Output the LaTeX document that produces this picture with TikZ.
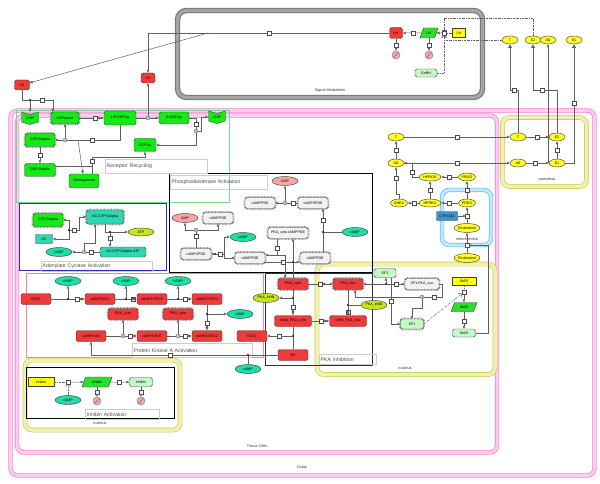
\documentclass[tikz,border=0pt]{standalone}
\usepackage{fontspec}
\setmainfont{Liberation Sans}
\usetikzlibrary{arrows.meta,shapes.geometric}

\definecolor{protGreen}{RGB}{20,235,20}
\definecolor{protRed}{RGB}{238,58,58}
\definecolor{protTeal}{RGB}{45,215,175}
\definecolor{protLight}{RGB}{195,250,195}
\definecolor{protGray}{RGB}{242,242,242}
\definecolor{cypBlue}{RGB}{60,150,205}
\definecolor{smTeal}{RGB}{30,222,165}
\definecolor{smPink}{RGB}{245,165,165}
\definecolor{smYellow}{RGB}{255,255,40}
\definecolor{smLime}{RGB}{195,232,25}
\definecolor{geneYellow}{RGB}{255,255,0}
\definecolor{rnaGreen}{RGB}{40,225,40}
\definecolor{degPink}{RGB}{245,170,170}
\definecolor{lineGray}{RGB}{95,95,95}
\definecolor{ovaryPink}{RGB}{255,115,205}
\definecolor{ovaryLight}{RGB}{255,205,238}
\definecolor{nucOlive}{RGB}{205,205,90}
\definecolor{nucLight}{RGB}{240,240,175}
\definecolor{mitoBlue}{RGB}{95,190,240}
\definecolor{mitoLight}{RGB}{195,232,255}
\definecolor{sigGray}{RGB}{120,120,120}
\definecolor{sigLight}{RGB}{165,165,165}
\definecolor{recyGreen}{RGB}{110,220,140}
\definecolor{acBlue}{RGB}{45,45,200}
\definecolor{pkaSalmon}{RGB}{255,135,135}

\tikzset{
  species/.style={draw=black!75, line width=0.45pt, inner sep=0.3pt, minimum height=11pt, font=\fontsize{3.6}{4}\selectfont},
  protein/.style={species, rectangle, rounded corners=1.8pt, minimum width=#1},
  protein/.default=30pt,
  active/.style={preaction={draw=black!40, line width=2.6pt, dash pattern=on 0.7pt off 0.7pt}},
  simple/.style={species, ellipse, minimum width=26pt, minimum height=9pt, inner sep=0pt},
  steroid/.style={simple, fill=smYellow, minimum width=16pt, minimum height=8pt},
  gene/.style={species, rectangle, fill=geneYellow, minimum width=#1, minimum height=9pt},
  gene/.default=26pt,
  rna/.style={species, trapezium, trapezium left angle=62, trapezium right angle=118, trapezium stretches=true, fill=rnaGreen, minimum width=#1, minimum height=10pt},
  rna/.default=30pt,
  receptorText/.style={species, draw=none, minimum width=17pt, minimum height=12pt},
  degraded/.style={circle, draw=black!55, fill=degPink, minimum size=8pt, inner sep=0pt, path picture={\draw[black!55, line width=0.4pt] (path picture bounding box.south west) -- (path picture bounding box.north east);}},
  sq/.style={draw=black!70, fill=white, minimum size=3.6pt, inner sep=0pt, line width=0.4pt},
  jn/.style={circle, fill=black, minimum size=2.2pt, inner sep=0pt},
  dis/.style={circle, draw=black!70, fill=white, minimum size=4pt, inner sep=0pt, line width=0.4pt, path picture={\fill[black!45] (path picture bounding box.center) circle (1pt);}},
  rxn/.style={draw=lineGray, line width=0.5pt},
  prod/.style={rxn, -{Triangle[length=3pt,width=2.6pt]}},
  rev/.style={rxn, {Triangle[length=3pt,width=2.6pt]}-{Triangle[length=3pt,width=2.6pt]}},
  transp/.style={rxn, -{Bar[width=4pt] Triangle[length=3pt,width=2.6pt]}},
  cat/.style={rxn, -{Circle[open, length=2.6pt]}},
  tx/.style={rxn, dash pattern=on 2pt off 1pt on 0.5pt off 1pt},
  trig/.style={tx, -{Straight Barb[length=2.5pt,width=5pt]}},
  inhib/.style={tx, -{Bar[width=5pt]}},
  compBand/.style={rounded corners=7pt, line width=0.7pt, double distance=3pt},
  funcBox/.style={line width=0.6pt},
  boxLabel/.style={draw=black!20, anchor=north west, inner xsep=1.5pt, inner ysep=0.5pt, align=left, text=black!70, font=\fontsize{5.2}{6}\selectfont},
  compText/.style={font=\fontsize{3.8}{4}\selectfont, text=black!80, inner sep=0pt}
}

\newcommand{\lhrShape}[2]{\draw[fill=protGreen, draw=black!70, line width=0.45pt] (#1-8.5,#2-6) -- (#1,#2-3.5) -- (#1+8.5,#2-6) -- (#1+8.5,#2+4) -- (#1,#2+6.5) -- (#1-8.5,#2+4) -- cycle;}

\begin{document}
\begin{tikzpicture}[x=1pt,y=-1pt]
\useasboundingbox (0,0) rectangle (600,484);

\draw[compBand, draw=sigGray, double=sigLight, line width=1.1pt, double distance=3.2pt, rounded corners=9pt] (177.5,10.5) rectangle (482.5,97.5);
\draw[compBand, draw=ovaryPink, double=ovaryLight] (10.5,110.5) rectangle (594.5,475.5);
\draw[compBand, draw=ovaryPink, double=ovaryLight] (17,115.5) rectangle (497,452.5);
\draw[compBand, draw=nucOlive, double=nucLight, double distance=3.5pt] (502.5,117.5) rectangle (586.5,186.5);
\draw[compBand, draw=mitoBlue, double=mitoLight] (442,190) rectangle (491,245);
\draw[compBand, draw=nucOlive, double=nucLight, double distance=3.5pt] (317,264) rectangle (495,374.5);
\draw[compBand, draw=nucOlive, double=nucLight, double distance=3.5pt] (25,360) rectangle (180,430);

\node (sigLabel) [compText] at (330,91) {Signal Modulation};
\node (ovaryLabel) [compText] at (302,468) {Ovary};
\node (thecaLabel) [compText] at (257,446) {Theca Cells};
\node (granLabel) [compText] at (547,180) {granulosa};
\node (mitoLabel) [compText] at (467,239) {mitochondria};
\node (nucLabelA) [compText] at (405,368) {nucleus};
\node (nucLabelB) [compText] at (100,423) {nucleus};

\draw[funcBox, draw=recyGreen] (16,110) rectangle (229,202);
\draw[funcBox, draw=black] (169,173) rectangle (372,272);
\draw[funcBox, draw=acBlue] (19,203) rectangle (166,270);
\draw[funcBox, draw=pkaSalmon] (26,273) rectangle (263,357);
\draw[funcBox, draw=black!80] (265,273) rectangle (372,365);
\draw[funcBox, draw=black] (26,367) rectangle (174,418);

\node (recyLabel) [boxLabel, text width=99pt, minimum height=14pt] at (105,159) {Receptor Recycling};
\node (pdeLabel) [boxLabel, text width=94pt, minimum height=14pt] at (170,175) {Phosphodiesterase Activation};
\node (acLabel) [boxLabel, text width=108pt, minimum height=10pt] at (41,261) {Adenylate Cyclase Activation};
\node (pkaLabel) [boxLabel, text width=117pt, minimum height=14pt] at (132,343) {Protein Kinase A Activation};
\node (inhLabel) [boxLabel, text width=54pt, minimum height=10pt] at (319,354) {PKA Inhibition};
\node (inhibinLabel) [boxLabel, text width=71pt, minimum height=10pt] at (85,409) {Inhibin Activation};

\node (lhSig) [protein=13pt, fill=protRed] at (396,33) {LH};
\node (lhRna) [rna=18pt] at (429,33) {LH};
\node (lhGene) [gene=13pt] at (459,33) {LH};
\node (gnrh) [protein=22pt, fill=protLight, minimum height=8pt] at (426,73) {GnRH};
\node (sqLhSec) [sq] at (413,33) {};
\node (sqLhTrans) [sq] at (444,33) {};
\node (sqLhDegA) [sq] at (396,45) {};
\node (sqLhDegB) [sq] at (429,45) {};
\node (degLhSig) [degraded] at (396,55) {};
\node (degLhRna) [degraded] at (429,55) {};
\node (sqLhOut) [sq] at (269,33) {};
\coordinate (lhSplit) at (208,33);

\node (tOut) [steroid] at (510,40) {T};
\node (e2Out) [steroid] at (533,40) {E2};
\node (adOut) [steroid] at (548,40) {AD};
\node (e1Out) [steroid] at (574,40) {E1};

\draw[prod] (lhRna) -- (sqLhSec) -- (lhSig);
\draw[tx] (lhGene) -- (sqLhTrans);
\draw[prod] (sqLhTrans) -- (lhRna);
\draw[prod] (lhSig) -- (sqLhDegA) -- (degLhSig);
\draw[prod] (lhRna) -- (sqLhDegB) -- (degLhRna);
\draw[inhib] (e2Out.north) -- (533,18) -| (sqLhTrans);
\draw[trig] (tOut.west) -| (sqLhTrans);
\draw[trig] (gnrh.east) -| (sqLhTrans);

\node (lhLeft) [protein=15pt, fill=protRed, minimum height=10pt] at (22,85) {LH};
\node (lhMid) [protein=14pt, fill=protRed, minimum height=10pt] at (148,78) {LH};
\draw[rxn] (lhSig) -- (sqLhOut) -- (lhSplit);
\draw[prod] (lhSplit) -| (lhMid);
\draw[prod] (lhSplit) -- (lhLeft);

\lhrShape{30}{118}
\node (lhrLeft) [receptorText] at (30,118) {LHR};
\lhrShape{217}{117}
\node (lhrRight) [receptorText] at (217,117) {LHR};
\node (lhrActive) [protein=28pt, fill=protGreen, active, minimum height=12pt] at (65,118) {LHRactive};
\node (lrgdpgs) [protein=32pt, fill=protGreen, minimum height=14pt] at (120,118) {L.R.GDP.gs};
\node (rgdpgs) [protein=30pt, fill=protGreen, minimum height=12pt] at (174,118) {R.GDP.gs};
\node (gtpGalpha) [protein=30pt, fill=protGreen, active, minimum height=13pt] at (40,140) {GTP.Galpha};
\node (gdpGalpha) [protein=31pt, fill=protGreen, minimum height=13pt] at (40,170) {GDP.Galpha};
\node (gbg) [protein=30pt, fill=protGreen, minimum height=14pt] at (84,181) {Gbetagamma};
\node (gdpGs) [protein=22pt, fill=protGreen, minimum height=13pt] at (145,145) {GDP.Gs};

\node (jnLH) [jn] at (30,100) {};
\node (sqLHbind) [sq] at (42,100) {};
\draw[rxn] (lhLeft) |- (jnLH);
\draw[prod] (jnLH) -- (lhrLeft);
\draw[rxn] (jnLH) -- (sqLHbind);
\draw[prod] (sqLHbind) -| ([xshift=2pt]lhrActive.north west);

\node (sqLRform) [sq] at (95,118) {};
\draw[rev] (lhrActive) -- (sqLRform) -- (lrgdpgs);

\node (disLR) [dis] at (148,118) {};
\draw[rxn] (lrgdpgs) -- (disLR);
\draw[prod] (disLR) -- (rgdpgs);
\draw[prod] (disLR) -- (lhMid);

\node (sqGact) [sq] at (92,140) {};
\node (disGact) [dis] at (65,140) {};
\coordinate (gbgBranch) at (78,140);
\draw[rxn] (lrgdpgs) |- (sqGact);
\draw[rxn] (sqGact) -- (disGact);
\draw[prod] (disGact) -- (gtpGalpha);
\draw[prod] (disGact) -- (lhrActive);
\draw[prod] (gbgBranch) -- (gbg);

\node (sqGhyd) [sq] at (40,155) {};
\draw[prod] (gtpGalpha) -- (sqGhyd) -- (gdpGalpha);

\coordinate (jnGs) at (92,166);
\node (sqGsForm) [sq] at (92,161) {};
\draw[rxn] (gdpGalpha.east |- jnGs) -- (jnGs);
\draw[rxn] (gbg.north -| jnGs) -- (jnGs);
\draw[prod] (jnGs) -- (sqGsForm) -- (92,157) -| (gdpGs);

\node (sqRdis) [sq] at (196,124) {};
\node (disR) [dis] at (196,131) {};
\draw[rxn] (rgdpgs.east) -| (sqRdis);
\draw[rxn] (sqRdis) -- (disR);
\draw[prod] (disR) -- (201,131) |- (lhrRight);
\draw[prod] (disR) |- (gdpGs);

\node (gtpGalphaAC) [protein=30pt, fill=protGreen, active, minimum height=13pt] at (48,220) {GTP.Galpha};
\node (ac) [protein=17pt, fill=protTeal, rounded corners=0.8pt, minimum height=9pt] at (44,239) {AC};
\node (acGtp) [protein=37pt, fill=protTeal, active, minimum height=14pt] at (105,217) {AC.GTP.Galpha};
\node (acGtpAtp) [protein=46pt, fill=protTeal, minimum height=10pt] at (123,252) {AC.GTP.Galpha.ATP};
\node (atp) [simple, fill=smLime, minimum height=8pt] at (141,232) {ATP};
\node (campAC) [simple, fill=smTeal] at (59,252) {cAMP};

\node (jnACbind) [jn] at (69,230) {};
\node (sqACbind) [sq] at (74,230) {};
\draw[prod] (jnACbind) |- (gtpGalphaAC);
\draw[prod] (jnACbind) |- (ac);
\draw[rxn] (jnACbind) -- (sqACbind);
\draw[prod] (sqACbind) -- (79,230) |- (acGtp);

\node (jnATP) [jn] at (110,232) {};
\node (sqATP) [sq] at (110,238) {};
\draw[rxn] (acGtp.south) |- (jnATP);
\draw[prod] (jnATP) -- (atp);
\draw[prod] (jnATP) -- (sqATP) -- (sqATP |- acGtpAtp.north);

\node (sqCyc) [sq] at (91,252) {};
\node (disCyc) [dis] at (84,252) {};
\draw[rxn] (acGtpAtp) -- (sqCyc) -- (disCyc);
\draw[prod] (disCyc) -- (campAC);
\draw[prod] (disCyc) -- (84,243) -| ([xshift=-10pt]acGtp.south);

\node (ampA) [simple, fill=smPink] at (285,181) {AMP};
\node (pdeA) [protein=30pt, fill=protGray, active] at (260,203) {cAMPPDE};
\node (pde2A) [protein=30pt, fill=protGray, active] at (313,203) {cAMP2PDE};
\node (ampB) [simple, fill=smPink] at (185,218) {AMP};
\node (pdeB) [protein=30pt, fill=protGray, active] at (218,218) {cAMPPDE};
\node (pde2B) [protein=30pt, fill=protGray, active] at (196,254) {cAMP2PDE};
\node (campPdeA) [simple, fill=smTeal] at (243,237) {cAMP};
\node (pdeM) [protein=30pt, fill=protGray, active] at (250,258) {cAMPPDE};
\node (pkaPde) [protein=40pt, fill=protGray, active] at (288,233) {PKA\_cyto.cAMPPDE};
\node (pdeR) [protein=30pt, fill=protGray, active] at (315,258) {cAMPPDE};
\node (campPdeB) [simple, fill=smTeal] at (355,232) {cAMP};

\node (sqPdeA) [sq] at (293,203) {};
\node (disPdeA) [dis] at (285,203) {};
\draw[rxn] (pde2A) -- (sqPdeA) -- (disPdeA);
\draw[prod] (disPdeA) -- (pdeA);
\draw[prod] (disPdeA) -- (ampA);

\node (sqPdeB) [sq] at (196,236) {};
\node (disPdeB) [dis] at (196,230) {};
\draw[rxn] (pde2B) -- (sqPdeB) -- (disPdeB);
\draw[prod] (disPdeB) -| (ampB);
\draw[prod] (disPdeB) -| (pdeB);

\node (jnPdeA) [jn] at (323,232) {};
\node (sqPdeBind) [sq] at (323,220) {};
\draw[rxn] (pdeR.north -| jnPdeA) -- (jnPdeA);
\draw[rxn] (campPdeB) -- (jnPdeA);
\draw[prod] (jnPdeA) -- (sqPdeBind) -- (pde2A.south -| sqPdeBind);

\node (jnPdeB) [jn] at (215,254) {};
\node (sqPdeBindB) [sq] at (220,254) {};
\coordinate (pdeSplitB) at (224,254);
\draw[prod] (jnPdeB) -- (pde2B);
\draw[rxn] (jnPdeB) -- (sqPdeBindB) -- (pdeSplitB);
\draw[prod] (pdeSplitB) |- (campPdeA);
\draw[prod] (pdeSplitB) |- (pdeM);

\node (pkaCyto) [protein=30pt, fill=protRed, active] at (293,284) {PKA\_cyto};

\node (sqPkaPde) [sq] at (277,248) {};
\coordinate (pkaPdeSplit) at (277,255);
\draw[rxn] (pkaPde.south -| sqPkaPde) -- (sqPkaPde) -- (pkaPdeSplit);
\draw[prod] (pkaPdeSplit) -- (pdeM.east |- pkaPdeSplit);
\draw[prod] (pkaPdeSplit) -| ([xshift=-8pt]pkaCyto.north);

\node (sqPdePhos) [sq] at (283,262) {};
\node (jnPkaPde) [jn] at (293,262) {};
\draw[rxn] (pdeM.east |- sqPdePhos) -- (sqPdePhos) -- (jnPkaPde);
\draw[prod] (jnPkaPde) -- (pdeR.west |- jnPkaPde);
\draw[rxn] (pkaCyto.north -| jnPkaPde) -- (jnPkaPde);
\draw[prod] (jnPkaPde) -- (pkaPde.south -| jnPkaPde);

\node (r2c2) [protein=30pt, fill=protRed] at (36,299) {R2C2};
\node (campR2c2) [protein=30pt, fill=protRed] at (100,299) {cAMP.R2C2};
\node (camp2R2c2) [protein=30pt, fill=protRed] at (152,299) {cAMP2.R2C2};
\node (camp3R2c2) [protein=30pt, fill=protRed] at (207,299) {cAMP3.R2C2};
\node (campA) [simple, fill=smTeal] at (68,281) {cAMP};
\node (campB) [simple, fill=smTeal] at (126,281) {cAMP};
\node (campC) [simple, fill=smTeal] at (178,281) {cAMP};
\node (campD) [simple, fill=smTeal] at (240,314) {cAMP};
\node (camp4R2) [protein=30pt, fill=protRed] at (91,336) {cAMP4.R2};
\node (camp4R2c) [protein=30pt, fill=protRed] at (152,336) {cAMP4.R2C};
\node (camp4R2c2) [protein=30pt, fill=protRed] at (207,336) {cAMP4.R2C2};
\node (pkaCytoA) [protein=30pt, fill=protRed, active] at (123,314) {PKA\_cyto};
\node (pkaCytoB) [protein=30pt, fill=protRed, active] at (178,314) {PKA\_cyto};

\node (jnPkaA) [jn] at (68,299) {};
\node (sqPkaA) [sq] at (77,299) {};
\draw[rev] (r2c2) -- (jnPkaA) -- (sqPkaA) -- (campR2c2);
\draw[prod] (jnPkaA) -- (campA);
\node (jnPkaB) [jn] at (126,299) {};
\node (sqPkaB) [sq] at (133,299) {};
\draw[rev] (campR2c2) -- (jnPkaB) -- (sqPkaB) -- (camp2R2c2);
\draw[prod] (jnPkaB) -- (campB);
\node (jnPkaC) [jn] at (178,299) {};
\node (sqPkaC) [sq] at (185,299) {};
\draw[rev] (camp2R2c2) -- (jnPkaC) -- (sqPkaC) -- (camp3R2c2);
\draw[prod] (jnPkaC) -- (campC);

\node (jnPkaV) [jn] at (207,314) {};
\node (sqPkaV) [sq] at (207,323) {};
\draw[rev] (camp3R2c2) -- (jnPkaV) -- (sqPkaV) -- (camp4R2c2);
\draw[prod] (jnPkaV) -- (campD);

\node (disPkaA) [dis] at (123,336) {};
\node (sqPkaD) [sq] at (130,336) {};
\draw[rev] (camp4R2) -- (disPkaA) -- (sqPkaD) -- (camp4R2c);
\draw[prod] (disPkaA) -- (pkaCytoA);
\node (disPkaB) [dis] at (178,336) {};
\node (sqPkaE) [sq] at (185,336) {};
\draw[rev] (camp4R2c) -- (disPkaB) -- (sqPkaE) -- (camp4R2c2);
\draw[prod] (disPkaB) -- (pkaCytoB);

\node (pkaInhibA) [simple, fill=smLime] at (266,298) {PKA\_inhib};
\node (inhPkaCyto) [protein=37pt, fill=protRed] at (293,321) {Inhib\_PKA\_cyto};
\node (r2c2Inh) [protein=30pt, fill=protRed] at (252,336) {R2C2};
\node (r2) [protein=30pt, fill=protRed] at (293,355) {R2};
\node (pkaNuc) [protein=30pt, fill=protRed, active] at (348,284) {PKA\_nuc};
\node (inhPkaNuc) [protein=37pt, fill=protRed] at (348,321) {Inhib\_PKA\_nuc};
\node (pkaInhibB) [simple, fill=smLime] at (374,305) {PKA\_inhib};
\node (campR2) [simple, fill=smTeal] at (248,369) {cAMP};

\node (sqR2) [sq] at (170,355) {};
\node (jnR2) [jn] at (248,355) {};
\draw[rxn] (r2) -- (jnR2);
\draw[rxn] (campR2) -- (jnR2);
\draw[prod] (jnR2) -- (sqR2) -| (camp4R2);

\node (jnInhA) [jn] at (293,298) {};
\node (sqInhA) [sq] at (293,307) {};
\draw[rev] (pkaCyto) -- (jnInhA) -- (sqInhA) -- (inhPkaCyto);
\draw[prod] (jnInhA) -- (pkaInhibA);
\node (sqTransA) [sq] at (320,284) {};
\draw[rev] (pkaCyto) -- (sqTransA) -- (pkaNuc);
\node (sqTransB) [sq] at (321,321) {};
\draw[rev] (inhPkaCyto) -- (sqTransB) -- (inhPkaNuc);
\node (jnR2c2) [jn] at (293,336) {};
\node (sqR2c2) [sq] at (279,336) {};
\draw[rxn] (inhPkaCyto) -- (jnR2c2);
\draw[rxn] (r2) -- (jnR2c2);
\draw[prod] (jnR2c2) -- (sqR2c2) -- (r2c2Inh);
\node (jnInhB) [jn] at (348,305) {};
\node (sqInhB) [sq] at (348,312) {};
\draw[rev] (pkaNuc) -- (jnInhB) -- (sqInhB) -- (inhPkaNuc);
\draw[rxn] (jnInhB) -- (pkaInhibB);

\node (sf1) [protein=22pt, fill=protLight, minimum height=9pt] at (385,273) {SF1};
\node (sf1Pka) [protein=34pt, fill=protGray, active] at (422,284) {SF1.PKA\_nuc};
\node (sf1Nuc) [protein=23pt, fill=protLight, active, minimum height=10pt] at (412,324) {SF1};
\node (starGene) [gene=24pt, minimum height=8pt] at (464,281) {StAR};
\node (starRna) [rna=26pt, minimum height=9pt] at (464,307) {StAR};
\node (starProt) [protein=23pt, fill=protLight, minimum height=8pt] at (464,333) {StAR};

\node (jnSf1) [jn] at (386,284) {};
\node (sqSf1) [sq] at (396,284) {};
\draw[prod] (jnSf1) -- (pkaNuc);
\draw[prod] (jnSf1) -- (sf1.south -| jnSf1);
\draw[prod] (jnSf1) -- (sqSf1) -- (sf1Pka);
\node (sqSf1Dis) [sq] at (434,297) {};
\node (disSf1) [dis] at (422,297) {};
\draw[rxn] (sf1Pka.east) -- ++(3,0) |- (sqSf1Dis);
\draw[rxn] (sqSf1Dis) -- (disSf1);
\draw[prod] (disSf1) -| ([xshift=7pt]pkaNuc.south);
\draw[prod] (disSf1) -- (422,308) -| (sf1Nuc);
\node (sqSf1Move) [sq] at (391,301) {};
\draw[prod] (sf1.south -| sqSf1Move) -- (sqSf1Move) |- (sf1Nuc);

\node (sqStarTx) [sq] at (464,292) {};
\node (sqStarTl) [sq] at (464,321) {};
\draw[tx] (starGene) -- (sqStarTx);
\draw[prod] (sqStarTx) -- (starRna);
\draw[prod] (starRna) -- (sqStarTl) -- (starProt);
\draw[trig] (sf1Nuc.east) -- (sqStarTx);

\node (tTheca) [steroid] at (396,137) {T};
\node (adTheca) [steroid] at (396,163) {AD};
\node (hprog) [steroid, minimum width=22pt] at (430,177) {HPROG};
\node (dhea) [steroid, minimum width=17pt] at (399,203) {DHEA};
\node (hpreg) [steroid, minimum width=22pt] at (430,203) {HPREG};
\node (preg) [steroid, minimum width=17pt] at (467,203) {PREG};
\node (prog) [steroid, minimum width=17pt] at (467,177) {PROG};
\node (cholMito) [steroid, minimum width=26pt, minimum height=9pt] at (467,228) {Cholesterol};
\node (cholCyto) [steroid, minimum width=26pt, minimum height=9pt] at (467,258) {Cholesterol};
\node (cyp) [protein=21pt, fill=cypBlue, rounded corners=0.8pt, minimum height=9pt] at (447,216) {CYP11A1};

\node (tGran) [steroid] at (518,137) {T};
\node (e2Gran) [steroid] at (557,137) {E2};
\node (adGran) [steroid] at (518,163) {AD};
\node (e1Gran) [steroid] at (557,163) {E1};

\node (sqTTrans) [sq] at (457,137) {};
\draw[prod] (tTheca) -- (sqTTrans) -- (tGran);
\node (sqADTrans) [sq] at (457,163) {};
\draw[prod] (adTheca) -- (sqADTrans) -- (adGran);
\node (sqADT) [sq] at (396,150) {};
\draw[prod] (adTheca) -- (sqADT) -- (tTheca);
\node (sqDheaAD) [sq] at (396,178) {};
\draw[prod] (dhea.north) -- ++(0,-5) -| (sqDheaAD) -- (adTheca);
\node (sqHprogAD) [sq] at (412,172) {};
\draw[prod] (hprog.west) -| (sqHprogAD) |- (adTheca.east);
\node (sqHpregDhea) [sq] at (414,203) {};
\draw[prod] (hpreg) -- (sqHpregDhea) -- (dhea);
\node (sqHpregHprog) [sq] at (430,190) {};
\draw[prod] (hpreg) -- (sqHpregHprog) -- (hprog);
\node (sqPregHpreg) [sq] at (449,203) {};
\draw[prod] (preg) -- (sqPregHpreg) -- (hpreg);
\node (sqPregProg) [sq] at (467,190) {};
\draw[prod] (preg) -- (sqPregProg) -- (prog);
\node (sqProgHprog) [sq] at (449,177) {};
\draw[prod] (prog) -- (sqProgHprog) -- (hprog);
\node (sqCholPreg) [sq] at (467,216) {};
\draw[prod] (cholMito) -- (sqCholPreg) -- (preg);
\draw[cat] (cyp.east) -- (sqCholPreg);
\node (sqCholImport) [sq] at (467,245) {};
\draw[prod] (cholCyto) -- (sqCholImport) -- (cholMito);
\draw[cat] (starProt.east) -| (488,245) -- (sqCholImport);

\node (sqTE2) [sq] at (537,137) {};
\draw[prod] (tGran) -- (sqTE2) -- (e2Gran);
\node (sqADE1) [sq] at (535,163) {};
\draw[prod] (adGran) -- (sqADE1) -- (e1Gran);
\node (sqE1E2) [sq] at (557,150) {};
\draw[prod] (e1Gran) -- (sqE1E2) -- (e2Gran);

\node (sqTOut) [sq] at (514,90) {};
\draw[transp] (tGran) |- (sqTOut) -| (tOut);
\node (sqE2Out) [sq] at (542,90) {};
\draw[transp] (e2Gran) |- (sqE2Out) -| (e2Out);
\node (sqE1Out) [sq] at (574,103) {};
\draw[transp] (e1Gran.east) -| (sqE1Out) -- (e1Out);
\coordinate (adBranch) at (548,163);
\draw[prod] (adBranch) -- (adOut);

\node (inhGene) [gene=26pt] at (41,382) {inhibin};
\node (inhRna) [rna=30pt] at (97,382) {inhibin};
\node (inhProt) [protein=23pt, fill=protLight, minimum height=9pt] at (141,382) {inhibin};
\node (campInh) [simple, fill=smTeal] at (68,400) {cAMP};
\node (sqInhTx) [sq] at (68,382) {};
\node (sqInhTl) [sq] at (119,382) {};
\node (sqInhDegA) [sq] at (97,392) {};
\node (degInhRna) [degraded] at (97,401) {};
\node (sqInhDegB) [sq] at (141,392) {};
\node (degInhProt) [degraded] at (141,401) {};
\draw[tx] (inhGene) -- (sqInhTx);
\draw[prod] (sqInhTx) -- (inhRna);
\draw[prod] (inhRna) -- (sqInhTl) -- (inhProt);
\draw[trig] (campInh) -- (sqInhTx);
\draw[prod] (inhRna) -- (sqInhDegA) -- (degInhRna);
\draw[prod] (inhProt) -- (sqInhDegB) -- (degInhProt);

\end{tikzpicture}
\end{document}
